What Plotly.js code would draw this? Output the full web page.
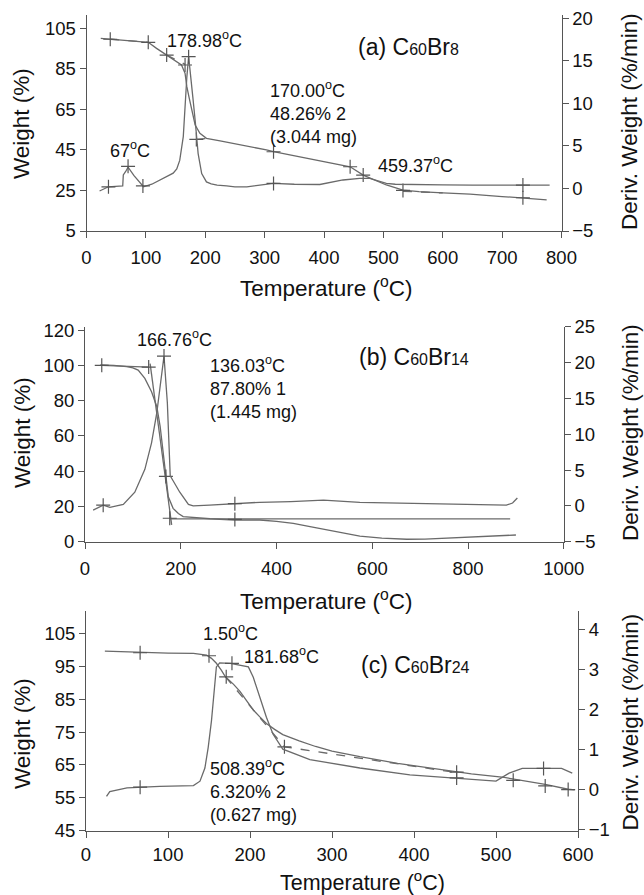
<!DOCTYPE html>
<html><head><meta charset="utf-8">
<script src="https://cdn.plot.ly/plotly-3.0.1.min.js"></script>
<style>html,body{margin:0;padding:0;background:#fff;}#chart{width:644px;height:895px;}</style>
</head><body><div id="chart"></div>
<script>
// ---------- Panel (a) C60Br8 ----------
const Ta_w = [24, 40, 70, 90, 104, 118, 135, 149, 160, 166, 169, 173, 177, 183, 191, 202, 225, 247, 275, 303, 315, 350, 400, 444, 466, 485, 505, 533, 560, 600, 646, 700, 735, 775];
const Wa   = [100, 99.6, 99.0, 98.5, 98.1, 95.1, 91.8, 89.4, 86.9, 82.8, 76.2, 70.5, 64.7, 57.3, 53.2, 50.7, 49.5, 48.3, 46.6, 45.0, 44.1, 42.0, 39.2, 36.7, 32.6, 30.2, 27.7, 25.2, 24.4, 23.8, 23.2, 22.0, 21.4, 20.4];
const Ta_d = [22, 37, 61, 62, 66, 70, 80, 93, 96, 110, 124, 140, 146, 152, 157, 163, 166, 169, 172, 176, 179, 183, 188, 194, 202, 210, 220, 236, 250, 270, 290, 315, 350, 393, 432, 460, 477, 492, 505, 520, 533, 560, 600, 650, 700, 735, 780];
const Da   = [-0.3, 0.2, 0.3, 1.6, 2.0, 2.5, 1.5, 0.4, 0.2, 0.5, 1.0, 1.5, 1.8, 2.3, 3.3, 6.1, 10.0, 13.1, 15.5, 13.1, 10.8, 8.0, 4.1, 1.75, 0.77, 0.55, 0.4, 0.3, 0.2, 0.2, 0.35, 0.6, 0.5, 0.47, 1.0, 1.2, 1.2, 0.9, 0.6, 0.5, 0.5, 0.45, 0.42, 0.4, 0.4, 0.4, 0.4];
const Ta_tan = [40, 104, null, 135, 166, null, 185, 202, null, 533, 600];
const Wa_tan = [99.6, 98.1, null, 91.8, 87.2, null, 50.2, 50.6, null, 24.6, 23.8];
const Ta_mw = [40, 104, 135, 166, 185, 315, 444, 466, 533, 735];
const Wa_mw = [99.6, 98.1, 91.8, 86.9, 50.2, 44.1, 36.7, 32.6, 25.0, 21.4];
const Ta_md = [37, 70, 95, 172, 315, 735];
const Da_md = [0.2, 2.6, 0.3, 15.5, 0.6, 0.4];

// ---------- Panel (b) C60Br14 ----------
const Tb_w = [32, 60, 87, 100, 111, 125, 139, 150, 157, 164, 169, 174, 184, 195, 205, 230, 261, 313, 365, 400, 435, 470, 505, 540, 574, 620, 672, 710, 748, 804, 850, 900];
const Wb   = [100.2, 100, 99.3, 98.6, 97.3, 92.6, 85, 76.5, 65.2, 50.1, 36.8, 25.5, 18.9, 16.0, 14.2, 13.5, 13.0, 12.3, 12.3, 11.5, 10.4, 8.5, 6.6, 4.8, 3.2, 2.0, 1.4, 1.5, 1.9, 2.8, 3.2, 3.8];
const Tb_d = [17, 38, 52, 80, 104, 125, 139, 150, 157, 165, 172, 178, 184, 198, 216, 226, 260, 313, 365, 430, 498, 574, 700, 804, 880, 893, 903];
const Db   = [-0.6, 0.1, -0.2, 0.2, 1.9, 5.1, 8.8, 13.0, 16.7, 20.9, 14.4, 4.2, 3.5, 1.9, 0.2, 0.0, 0.1, 0.3, 0.5, 0.6, 0.8, 0.5, 0.35, 0.24, 0.1, 0.4, 1.1];
const Tb_tan = [35, 133, null, 136, 181, null, 177, 888];
const Wb_tan = [100, 99, null, 101, 9.5, null, 12.9, 12.9];
const Tb_mw = [35, 133, 169, 177, 313];
const Wb_mw = [100, 99, 37, 13.3, 12.6];
const Tb_md = [38, 165, 313];
const Db_md = [0.1, 20.9, 0.3];

// ---------- Panel (c) C60Br24 ----------
const Tc_w = [23, 64, 100, 131, 147, 153, 159, 165, 170, 180, 188, 196, 204, 212, 220, 230, 240, 260, 280, 300, 334, 380, 420, 448, 470, 510, 540, 560, 588, 596];
const Wc   = [99.6, 99.2, 99.0, 98.9, 98.4, 97.4, 95.9, 93.8, 91.8, 89.5, 87.3, 84.5, 81.7, 79.6, 77.6, 75.8, 74.2, 72.3, 70.6, 69.2, 67.5, 65.5, 64.0, 63.0, 62.3, 61.2, 60.0, 59.1, 57.6, 57.4];
const Tc_d = [25, 29, 50, 64, 90, 131, 139, 145, 149, 153, 157, 159, 163, 176, 198, 204, 212, 220, 228, 240, 273, 334, 395, 448, 500, 516, 532, 580, 593];
const Dc   = [-0.18, -0.06, 0.03, 0.05, 0.07, 0.09, 0.2, 0.53, 1.04, 1.71, 2.56, 3.06, 3.16, 3.15, 3.06, 2.8, 2.3, 1.8, 1.38, 1.0, 0.74, 0.53, 0.36, 0.28, 0.2, 0.4, 0.52, 0.52, 0.4];
const Tc_tan = [170, 242, 448];
const Wc_tan = [91.8, 70.5, 62.8];
const Tc_mw = [66, 150, 171, 242, 452, 560, 588];
const Wc_mw = [99.1, 98.2, 91.8, 70.5, 62.8, 58.6, 57.5];
const Tc_md = [66, 178, 452, 521, 558];
const Dc_md = [0.05, 3.15, 0.28, 0.22, 0.52];

// ---------- Layout helpers ----------
const PW = 644, PH = 895;
const fx = x => x / PW, fy = y => 1 - y / PH;
const FONT = 'Liberation Sans, Arial, Helvetica, sans-serif';
const CURVE = '#6a6a6a';
const AX = '#555';

function curve(x, y, xa, ya, dash) {
  return {x: x, y: y, xaxis: xa, yaxis: ya, mode: 'lines', type: 'scatter', showlegend: false, hoverinfo: 'skip',
    connectgaps: false, line: {color: CURVE, width: 1.3, dash: dash || 'solid'}};
}
function marks(x, y, xa, ya) {
  return {x: x, y: y, xaxis: xa, yaxis: ya, mode: 'markers', type: 'scatter', showlegend: false, hoverinfo: 'skip',
    marker: {symbol: 'cross-thin', size: 10, color: '#555', line: {width: 1.2, color: '#555'}}};
}

const data = [
  curve(Ta_w, Wa, 'x', 'y'), curve(Ta_d, Da, 'x', 'y2'), curve(Ta_tan, Wa_tan, 'x', 'y', 'dash'),
  marks(Ta_mw, Wa_mw, 'x', 'y'), marks(Ta_md, Da_md, 'x', 'y2'),
  curve(Tb_w, Wb, 'x2', 'y3'), curve(Tb_d, Db, 'x2', 'y4'), curve(Tb_tan, Wb_tan, 'x2', 'y3'),
  marks(Tb_mw, Wb_mw, 'x2', 'y3'), marks(Tb_md, Db_md, 'x2', 'y4'),
  curve(Tc_w, Wc, 'x3', 'y5'), curve(Tc_d, Dc, 'x3', 'y6'), curve(Tc_tan, Wc_tan, 'x3', 'y5', 'dash'),
  marks(Tc_mw, Wc_mw, 'x3', 'y5'), marks(Tc_md, Dc_md, 'x3', 'y6')
];

function axis(extra) {
  return Object.assign({showline: true, linecolor: AX, linewidth: 1, ticks: 'outside', ticklen: 6, tickcolor: AX, tickwidth: 1,
    showgrid: false, zeroline: false, fixedrange: true, tickmode: 'array',
    tickfont: {family: FONT, size: 18.5, color: '#111'}}, extra);
}
const range = (a, b, s) => { const r = []; for (let v = a; v <= b + 1e-9; v += s) r.push(v); return r; };

const layout = {
  width: PW, height: PH, margin: {l: 0, r: 0, t: 0, b: 0}, paper_bgcolor: '#fff', plot_bgcolor: 'rgba(0,0,0,0)',
  font: {family: FONT, color: '#111'},
  xaxis:  axis({domain: [fx(86.5), fx(561.5)], anchor: 'y', range: [0, 800], tickvals: range(0, 800, 100), ticklabelstandoff: 4}),
  yaxis:  axis({domain: [fy(231), fy(15)], anchor: 'x', range: [5, 111.56], tickvals: range(5, 105, 20)}),
  yaxis2: axis({overlaying: 'y', side: 'right', anchor: 'x', range: [-5, 20.4], tickvals: range(-5, 20, 5)}),
  xaxis2: axis({domain: [fx(85), fx(563.8)], anchor: 'y3', range: [0, 1000], tickvals: range(0, 1000, 200), ticklabelstandoff: 4}),
  yaxis3: axis({domain: [fy(541.7), fy(326.5)], anchor: 'x2', range: [0, 122], tickvals: range(0, 120, 20)}),
  yaxis4: axis({overlaying: 'y3', side: 'right', anchor: 'x2', range: [-5, 25.03], tickvals: range(-5, 25, 5)}),
  xaxis3: axis({domain: [fx(86), fx(578)], anchor: 'y5', range: [0, 600], tickvals: range(0, 600, 100), ticklabelstandoff: 1}),
  yaxis5: axis({domain: [fy(830.7), fy(611)], anchor: 'x3', range: [45, 111.8], tickvals: range(45, 105, 10)}),
  yaxis6: axis({overlaying: 'y5', side: 'right', anchor: 'x3', range: [-1.04, 4.46], tickvals: range(-1, 4, 1)}),
  annotations: []
};

function note(text, x, y, opts) {
  layout.annotations.push(Object.assign({text: text, xref: 'paper', yref: 'paper', x: fx(x), y: fy(y),
    xanchor: 'center', yanchor: 'middle', showarrow: false, align: 'left',
    font: {family: FONT, size: 18, color: '#111'}}, opts || {}));
}
const sm = s => '<span style="font-size:16px">' + s + '</span>';
const PF = {family: FONT, size: 23, color: '#111'};

// panel (a)
note('178.98<sup>o</sup>C', 204.7, 40);
note('67<sup>o</sup>C', 130, 150);
note('170.00<sup>o</sup>C<br>48.26% 2<br>(3.044 mg)', 268, 112.5, {xanchor: 'left'});
note('459.37<sup>o</sup>C', 415, 165);
note('(a) C' + sm('60') + 'Br' + sm('8'), 356, 46.7, {xanchor: 'left', font: PF});
// panel (b)
note('166.76<sup>o</sup>C', 174, 338.3);
note('136.03<sup>o</sup>C<br>87.80% 1<br>(1.445 mg)', 208.3, 387.5, {xanchor: 'left'});
note('(b) C' + sm('60') + 'Br' + sm('14'), 357, 356.7, {xanchor: 'left', font: PF});
// panel (c)
note('1.50<sup>o</sup>C', 230, 632);
note('181.68<sup>o</sup>C', 281, 655);
note('508.39<sup>o</sup>C<br>6.320% 2<br>(0.627 mg)', 208.3, 790.8, {xanchor: 'left'});
note('(c) C' + sm('60') + 'Br' + sm('24'), 359, 665, {xanchor: 'left', font: PF});

// axis titles
const TF = {family: FONT, size: 22.5, color: '#111'};
[[124, 122, 287, 326, 22.5], [433, 433, 600, 326, 22.5], [734, 722.5, 881, 362, 21.5]].forEach(([yl, yr, yx, xx, fs]) => {
  note('Weight (%)', 22, yl, {textangle: -90, font: TF});
  note('Deriv. Weight (%/min)', 630, yr, {textangle: -90, font: TF});
  note('Temperature (<sup>o</sup>C)', xx, yx, {font: {family: FONT, size: fs, color: '#111'}});
});

Plotly.newPlot('chart', data, layout, {staticPlot: true, displayModeBar: false});
</script>
</body></html>
